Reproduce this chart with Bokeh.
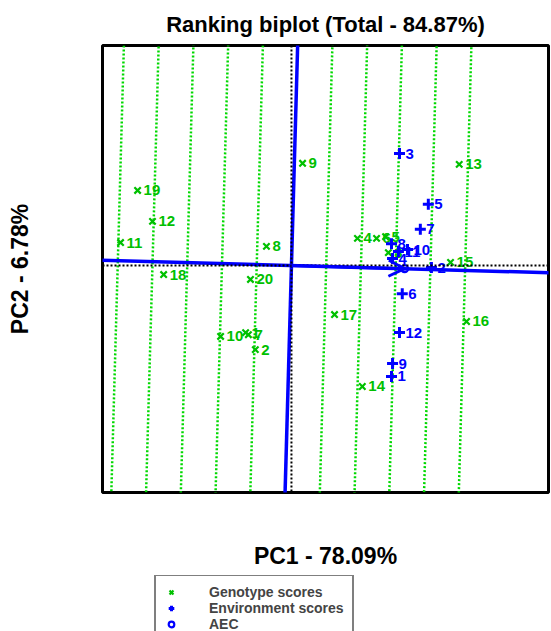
import numpy as np
from bokeh.plotting import figure
from bokeh.layouts import column
from bokeh.models import (ColumnDataSource, Span, Arrow, OpenHead, Legend, LegendItem,
                          FixedTicker, Range1d)
from bokeh.embed import file_html
from bokeh.resources import INLINE
from bokeh.core.properties import value

# ---------------- data ----------------
title_text = "Ranking biplot (Total - 84.87%)"
x_label = "PC1 - 78.09%"
y_label = "PC2 - 6.78%"

genotype_labels = [str(i) for i in range(1, 21)]
genotype_pc1 = [-1.32, -1.04, 2.79, 1.90, 2.71, 2.45, -1.24, -0.72, 0.32, -2.04,
                -4.92, -4.00, 4.83, 2.04, 4.58, 5.04, 1.24, -3.68, -4.43, -1.18]
genotype_pc2 = [-1.93, -2.42, 0.37, 0.78, 0.83, 0.78, -1.99, 0.55, 2.94, -2.04,
                0.66, 1.27, 2.91, -3.48, 0.09, -1.61, -1.41, -0.26, 2.16, -0.40]

environment_labels = [str(i) for i in range(1, 13)]
environment_pc1 = [2.88, 4.03, 3.11, 2.91, 3.94, 3.19, 3.71, 2.88, 2.91, 3.34, 3.08, 3.11]
environment_pc2 = [-3.19, -0.06, 3.22, 0.20, 1.76, -0.81, 1.04, 0.63, -2.82, 0.46, 0.40, -1.93]

aec_step = 1.0
aec_line_index = [-5, -4, -3, -2, -1, 1, 2, 3, 4, 5]

legend_labels = ["Genotype scores", "Environment scores", "AEC"]

# ---------------- derived geometry ----------------
env_x = np.array(environment_pc1)
env_y = np.array(environment_pc2)
aec = np.array([env_x.mean(), env_y.mean()])
u = aec / np.linalg.norm(aec)
v = np.array([-u[1], u[0]])
L = 30.0

gx0, gy0, gx1, gy1 = [], [], [], []
for k in aec_line_index:
    c = k * aec_step * u
    gx0.append(c[0] - L * v[0]); gy0.append(c[1] - L * v[1])
    gx1.append(c[0] + L * v[0]); gy1.append(c[1] + L * v[1])

FONT = value("Liberation Sans")
GREEN = "#00c000"
GREEN_LINE = "#00d800"
BLUE = "#0000ff"

BORDER_L, BORDER_R = 102, 3

p = figure(width=551, height=575, output_backend="svg", toolbar_location=None,
           x_range=Range1d(-5.44, 7.40), y_range=Range1d(-6.53, 6.33),
           min_border_left=BORDER_L, min_border_right=BORDER_R,
           min_border_top=45, min_border_bottom=83)
p.background_fill_color = "white"
p.border_fill_color = "white"
p.outline_line_color = "black"
p.outline_line_width = 3
p.xgrid.visible = False
p.ygrid.visible = False

p.title.text = title_text
p.title.align = "center"
p.title.text_font = "Liberation Sans"
p.title.text_font_size = "22px"
p.title.text_font_style = "bold"
p.title.text_color = "black"
p.title.standoff = 18

for ax, lab, so in ((p.xaxis[0], x_label, 50), (p.yaxis[0], y_label, 70)):
    ax.ticker = FixedTicker(ticks=[])
    ax.axis_line_color = None
    ax.major_tick_line_color = None
    ax.minor_tick_line_color = None
    ax.major_tick_out = 0
    ax.major_label_standoff = 0
    ax.axis_label = lab
    ax.axis_label_standoff = so
    ax.axis_label_text_font = "Liberation Sans"
    ax.axis_label_text_font_size = "23px"
    ax.axis_label_text_font_style = "bold"
    ax.axis_label_text_color = "black"

# green dotted lines perpendicular to AEC abscissa
p.segment(gx0, gy0, gx1, gy1, line_color=GREEN_LINE, line_width=2.5, line_dash="2 2")

# AEC abscissa and ordinate
p.line([-L * u[0], L * u[0]], [-L * u[1], L * u[1]], line_color=BLUE, line_width=3.5)
p.line([-L * v[0], L * v[0]], [-L * v[1], L * v[1]], line_color=BLUE, line_width=3.5)

p.add_layout(Span(location=0, dimension="width", line_color="black", line_width=2, line_dash="2 2"))
p.add_layout(Span(location=0, dimension="height", line_color="black", line_width=2, line_dash="2 2"))

p.add_layout(Arrow(end=OpenHead(size=16, line_color=BLUE, line_width=3),
                   x_start=0, y_start=0, x_end=aec[0], y_end=aec[1],
                   line_color=BLUE, line_width=3))

gsrc = ColumnDataSource(dict(x=genotype_pc1, y=genotype_pc2, t=genotype_labels))
esrc = ColumnDataSource(dict(x=environment_pc1, y=environment_pc2, t=environment_labels))

G_STYLE = dict(marker="x", size=9, line_color=GREEN, line_width=2.2)
E_STYLE = dict(marker="cross", size=11, line_color=BLUE, line_width=3)
A_STYLE = dict(marker="circle", size=7, fill_color=None, line_color=BLUE, line_width=2.2)

p.scatter("x", "y", source=gsrc, **G_STYLE)
p.text("x", "y", text="t", source=gsrc, x_offset=6, text_baseline="middle", text_align="left",
       text_font=FONT, text_font_size="15px", text_font_style="bold", text_color=GREEN)

p.scatter("x", "y", source=esrc, **E_STYLE)
p.text("x", "y", text="t", source=esrc, x_offset=6, text_baseline="middle", text_align="left",
       text_font=FONT, text_font_size="15px", text_font_style="bold", text_color=BLUE)

p.scatter([aec[0]], [aec[1]], **A_STYLE)

# ---------------- legend strip ----------------
p2 = figure(width=551, height=56, output_backend="svg", toolbar_location=None,
            x_axis_location=None, y_axis_location=None,
            x_range=Range1d(0, 1), y_range=Range1d(0, 1),
            min_border_left=BORDER_L, min_border_right=BORDER_R,
            min_border_top=0, min_border_bottom=0)
p2.outline_line_color = None
p2.xgrid.visible = False
p2.ygrid.visible = False
p2.background_fill_color = "white"
p2.border_fill_color = "white"

# proxy renderers (placed outside the visible range) that carry the legend styles
lr1 = p2.scatter([-10], [-10], **G_STYLE)
lr2 = p2.scatter([-10], [-10], **E_STYLE)
lr3 = p2.scatter([-10], [-10], **A_STYLE)

legend = Legend(items=[LegendItem(label=legend_labels[0], renderers=[lr1]),
                       LegendItem(label=legend_labels[1], renderers=[lr2]),
                       LegendItem(label=legend_labels[2], renderers=[lr3])],
                location=(52, -11))
legend.border_line_color = "black"
legend.border_line_width = 2
legend.padding = 8
legend.spacing = 0
legend.margin = 0
legend.glyph_width = 14
legend.glyph_height = 16
legend.label_height = 15
legend.label_standoff = 31
legend.label_text_font = "Liberation Sans"
legend.label_text_font_size = "14px"
legend.label_text_font_style = "bold"
legend.background_fill_alpha = 1.0
p2.add_layout(legend)

layout = column(p, p2, spacing=0)
open("out.html", "w").write(file_html(layout, INLINE))
